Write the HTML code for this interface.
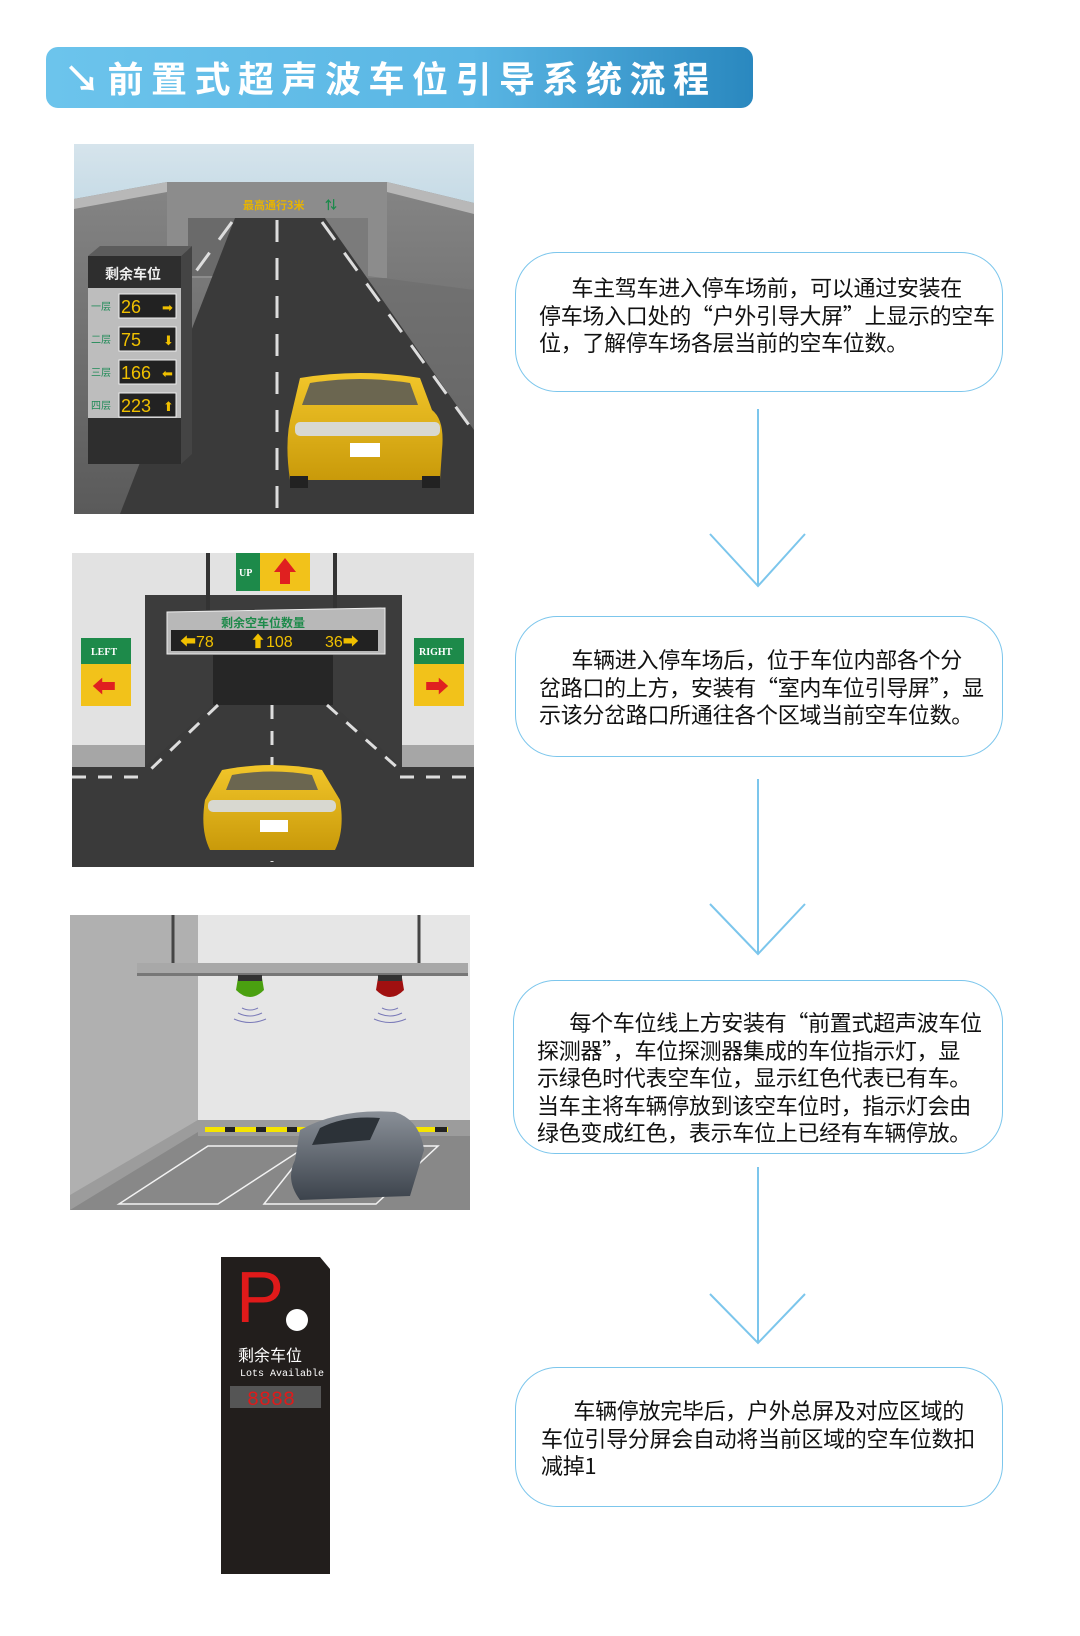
<!DOCTYPE html>
<html><head><meta charset="utf-8"><style>
html,body{margin:0;padding:0;background:#fff;}
body{width:1080px;height:1636px;position:relative;overflow:hidden;font-family:"Liberation Sans","Noto Sans CJK SC",sans-serif;}
.box{position:absolute;border:1.5px solid #7cc6ec;border-radius:42px;background:#fff;box-sizing:border-box;}
.txt{position:absolute;font-size:22px;line-height:27.5px;color:#111;white-space:nowrap;font-family:"Noto Sans CJK SC",sans-serif;letter-spacing:-0.3px;}
.title{position:absolute;left:46px;top:47px;width:707px;height:61px;border-radius:12px;background:linear-gradient(90deg,#6cc4ec 0%,#5ab6e4 60%,#2a88bf 100%);color:#fff;font-size:36px;line-height:61px;font-weight:bold;letter-spacing:7.5px;padding-left:18px;box-sizing:border-box;font-family:"Noto Sans CJK SC",sans-serif;white-space:nowrap;overflow:hidden;}
</style></head><body>
<div class="title">↘前置式超声波车位引导系统流程</div>

<svg width="1080" height="1636" style="position:absolute;left:0;top:0" xmlns="http://www.w3.org/2000/svg">
<defs>
<linearGradient id="sky" x1="0" y1="0" x2="0" y2="1"><stop offset="0" stop-color="#d6e4ec"/><stop offset="1" stop-color="#c6dbe6"/></linearGradient>
<linearGradient id="wall1" x1="0" y1="0" x2="0" y2="1"><stop offset="0" stop-color="#8a8a8a"/><stop offset="1" stop-color="#5a5a5a"/></linearGradient>
<linearGradient id="car" x1="0" y1="0" x2="0" y2="1"><stop offset="0" stop-color="#f2c62a"/><stop offset="1" stop-color="#c99a0a"/></linearGradient>
<linearGradient id="gcar" x1="0" y1="0" x2="0" y2="1"><stop offset="0" stop-color="#8a9098"/><stop offset="1" stop-color="#3c434c"/></linearGradient>
</defs>

<!-- IMAGE 1 -->
<g>
<rect x="74" y="144" width="400" height="370" fill="url(#wall1)"/>
<polygon points="74,144 474,144 474,203 387,182 167,182 74,199" fill="url(#sky)"/>
<polygon points="74,199 167,182 387,182 474,203 474,214 387,192 167,192 74,209" fill="#b8b8b8"/>
<rect x="167" y="182" width="220" height="96" fill="#8c8c8c"/>
<rect x="188" y="218" width="107" height="58" fill="#6a6a6a"/>
<polygon points="235,218 325,218 474,430 474,514 180,514 120,514" fill="#3a3a3a"/>
<polygon points="325,218 368,218 368,276 474,290 474,430" fill="#6a6a6a" opacity="0.5"/>
<g stroke="#ddd" stroke-width="3" stroke-dasharray="22,16">
<line x1="277" y1="220" x2="277" y2="512"/>
<line x1="232" y1="222" x2="175" y2="300"/>
<line x1="322" y1="222" x2="474" y2="432"/>
</g>
<text x="243" y="209" font-size="11" fill="#e8b400" font-weight="bold" font-family="Noto Sans CJK SC,sans-serif">最高通行3米</text>
<text x="325" y="209" font-size="12" fill="#1a8a4a" font-weight="bold">⇅</text>
<polygon points="88,256 100,246 192,246 181,256" fill="#5c5c5c"/>
<polygon points="181,256 192,246 192,454 181,464" fill="#444"/>
<rect x="88" y="256" width="93" height="208" fill="#2e2e2e"/>
<text x="105" y="279" font-size="14" fill="#eee" font-weight="bold" font-family="Noto Sans CJK SC,sans-serif">剩余车位</text>
<rect x="88" y="288" width="93" height="130" fill="#bdbdbd"/>
<g font-family="Liberation Sans,sans-serif">
<g fill="#1f8a57" font-size="10" font-family="Noto Sans CJK SC,sans-serif"><text x="91" y="310">一层</text><text x="91" y="343">二层</text><text x="91" y="376">三层</text><text x="91" y="409">四层</text></g>
<rect x="119" y="294" width="57" height="24" fill="#222" stroke="#eee"/>
<rect x="119" y="327" width="57" height="24" fill="#222" stroke="#eee"/>
<rect x="119" y="360" width="57" height="24" fill="#222" stroke="#eee"/>
<rect x="119" y="393" width="57" height="24" fill="#222" stroke="#eee"/>
<g fill="#f0c000" font-size="18"><text x="121" y="313">26</text><text x="121" y="346">75</text><text x="121" y="379">166</text><text x="121" y="412">223</text>
<text x="162" y="312" font-size="13">➡</text><text x="163" y="345" font-size="13">⬇</text><text x="162" y="378" font-size="13">⬅</text><text x="163" y="411" font-size="13">⬆</text></g>
</g>
<path d="M300 378 Q360 368 420 378 L432 410 Q445 420 442 450 L440 480 L290 480 Q284 440 292 412 Z" fill="url(#car)"/>
<path d="M310 383 Q360 375 410 383 L418 405 L302 405 Z" fill="#6b6650"/>
<rect x="295" y="422" width="145" height="14" rx="5" fill="#d8d8d0"/>
<rect x="350" y="443" width="30" height="14" fill="#fff"/>
<rect x="290" y="476" width="18" height="12" fill="#222"/><rect x="422" y="476" width="18" height="12" fill="#222"/>
</g>

<!-- IMAGE 2 -->
<g>
<rect x="72" y="553" width="402" height="314" fill="#e2e2e2"/>
<rect x="72" y="745" width="73" height="22" fill="#a6a6a6"/><rect x="402" y="745" width="72" height="22" fill="#a6a6a6"/>
<rect x="145" y="595" width="257" height="172" fill="#3c3c3c"/>
<rect x="213" y="655" width="120" height="100" fill="#262626"/>
<polygon points="72,767 145,767 213,705 333,705 402,767 474,767 474,867 72,867" fill="#3a3a3a"/>
<g stroke="#ddd" stroke-width="3" stroke-dasharray="14,12"><line x1="272" y1="705" x2="272" y2="862"/><line x1="218" y1="705" x2="150" y2="770"/><line x1="327" y1="705" x2="400" y2="770"/>
<line x1="72" y1="777" x2="150" y2="777"/><line x1="400" y1="777" x2="474" y2="777"/></g>
<line x1="208" y1="553" x2="208" y2="610" stroke="#333" stroke-width="4"/><line x1="335" y1="553" x2="335" y2="610" stroke="#333" stroke-width="4"/>
<rect x="236" y="553" width="24" height="38" fill="#1d8a4a"/><rect x="260" y="553" width="50" height="38" fill="#f2c21a"/>
<text x="239" y="576" font-size="10" fill="#fff" font-weight="bold" font-family="Liberation Serif,serif">UP</text>
<polygon points="285,558 296,572 290,572 290,584 280,584 280,572 274,572" fill="#e02020"/>
<polygon points="167,612 385,608 385,654 167,654" fill="#b8b8b8" stroke="#eee"/>
<text x="221" y="627" font-size="12" fill="#1d8a4a" font-weight="bold" font-family="Noto Sans CJK SC,sans-serif">剩余空车位数量</text>
<rect x="171" y="630" width="207" height="21" fill="#222"/>
<text x="180" y="647" font-size="16" fill="#f0c000">⬅78</text><text x="250" y="647" font-size="16" fill="#f0c000">⬆108</text><text x="325" y="647" font-size="16" fill="#f0c000">36➡</text>
<rect x="81" y="638" width="50" height="26" fill="#1d8a4a"/><rect x="81" y="664" width="50" height="42" fill="#f2c21a"/>
<text x="91" y="655" font-size="10" fill="#fff" font-weight="bold" font-family="Liberation Serif,serif">LEFT</text>
<text x="92" y="695" font-size="24" fill="#e02020">⬅</text>
<rect x="414" y="638" width="50" height="26" fill="#1d8a4a"/><rect x="414" y="664" width="50" height="42" fill="#f2c21a"/>
<text x="419" y="655" font-size="10" fill="#fff" font-weight="bold" font-family="Liberation Serif,serif">RIGHT</text>
<text x="425" y="695" font-size="24" fill="#e02020">➡</text>
<path d="M222 770 Q272 760 322 770 L340 800 Q345 830 335 850 L210 850 Q200 830 205 800 Z" fill="url(#car)"/>
<rect x="208" y="800" width="128" height="12" rx="5" fill="#d8d8d0"/>
<rect x="260" y="820" width="28" height="12" fill="#fff"/>
<path d="M232 775 Q272 768 312 775 L318 790 L226 790 Z" fill="#6b6650"/>
</g>

<!-- IMAGE 3 -->
<g>
<rect x="70" y="915" width="400" height="295" fill="#e6e6e6"/>
<rect x="70" y="915" width="128" height="295" fill="#b0b0b0"/>
<rect x="198" y="1120" width="272" height="16" fill="#9c9c9c"/>
<polygon points="198,1120 198,1136 470,1136 470,1210 70,1210 70,1200" fill="#888"/>
<polygon points="70,1195 198,1120 198,1132 70,1210" fill="#9c9c9c"/>
<line x1="173" y1="915" x2="173" y2="963" stroke="#444" stroke-width="3"/><line x1="419" y1="915" x2="419" y2="963" stroke="#444" stroke-width="3"/>
<rect x="137" y="963" width="331" height="13" fill="#a8a8a8"/><rect x="137" y="973" width="331" height="3" fill="#777"/>
<path d="M238 978 L262 978 L264 990 Q250 1004 236 990 Z" fill="#4aa010"/><rect x="238" y="975" width="24" height="6" fill="#333"/>
<path d="M378 978 L402 978 L404 990 Q390 1004 376 990 Z" fill="#a01010"/><rect x="378" y="975" width="24" height="6" fill="#333"/>
<g fill="none" stroke="#7a7ab8" stroke-width="1"><path d="M242 1008 Q250 1012 258 1008"/><path d="M238 1013 Q250 1019 262 1013"/><path d="M234 1019 Q250 1026 266 1019"/>
<path d="M382 1008 Q390 1012 398 1008"/><path d="M378 1013 Q390 1019 402 1013"/><path d="M374 1019 Q390 1026 406 1019"/></g>
<rect x="205" y="1127" width="108" height="5" fill="#f5e400"/><rect x="328" y="1127" width="120" height="5" fill="#f5e400"/>
<g fill="#222"><rect x="225" y="1127" width="10" height="5"/><rect x="256" y="1127" width="10" height="5"/><rect x="287" y="1127" width="10" height="5"/><rect x="435" y="1127" width="12" height="5"/></g>
<g fill="none" stroke="#f2f2f2" stroke-width="1.5"><polygon points="208,1146 307,1146 218,1204 119,1204"/><polygon points="310,1146 438,1146 376,1204 264,1204"/></g>
<path d="M300 1130 Q340 1108 395 1112 Q420 1120 424 1150 L410 1196 L300 1200 Q285 1180 295 1160 Z" fill="url(#gcar)"/>
<path d="M320 1128 Q345 1115 380 1118 L370 1140 L312 1145 Z" fill="#2c3238"/>
</g>

<!-- SIGN -->
<g transform="translate(0,-14)">
<polygon points="221,1271 320,1271 330,1283 330,1588 221,1588" fill="#221e1c"/>
<text x="236" y="1336" font-size="72" fill="#e01a1a" font-family="Liberation Sans,sans-serif">P</text>
<circle cx="297" cy="1334" r="11" fill="#fff"/>
<text x="238" y="1375" font-size="16" fill="#fff" font-family="Noto Sans CJK SC,sans-serif">剩余车位</text>
<text x="240" y="1390" font-size="10" fill="#fff" font-family="Liberation Mono,monospace">Lots Available</text>
<rect x="230" y="1400" width="91" height="22" fill="#555"/>
<text x="247" y="1419" font-size="20" fill="#e01a1a" font-family="Liberation Mono,monospace">8888</text>
</g>

<!-- ARROWS -->
<g stroke="#7cc6ec" stroke-width="2" fill="none">
<line x1="758" y1="409" x2="758" y2="586"/><polyline points="710,534 758,586 805,534"/>
<line x1="758" y1="779" x2="758" y2="954"/><polyline points="710,904 758,954 805,904"/>
<line x1="758" y1="1167" x2="758" y2="1343"/><polyline points="710,1294 758,1343 805,1294"/>
</g>
</svg>

<div class="box" style="left:515px;top:252px;width:488px;height:140px"></div>
<div class="txt" style="left:539px;top:274px;">&emsp;&ensp;车主驾车进入停车场前，可以通过安装在<br>停车场入口处的“户外引导大屏”上显示的空车<br>位，了解停车场各层当前的空车位数。</div>
<div class="box" style="left:515px;top:616px;width:488px;height:141px"></div>
<div class="txt" style="left:539px;top:646px;">&emsp;&ensp;车辆进入停车场后，位于车位内部各个分<br>岔路口的上方，安装有“室内车位引导屏”，显<br>示该分岔路口所通往各个区域当前空车位数。</div>
<div class="box" style="left:513px;top:980px;width:490px;height:174px"></div>
<div class="txt" style="left:537px;top:1009px;">&emsp;&ensp;每个车位线上方安装有“前置式超声波车位<br>探测器”，车位探测器集成的车位指示灯，显<br>示绿色时代表空车位，显示红色代表已有车。<br>当车主将车辆停放到该空车位时，指示灯会由<br>绿色变成红色，表示车位上已经有车辆停放。</div>
<div class="box" style="left:515px;top:1367px;width:488px;height:140px"></div>
<div class="txt" style="left:541px;top:1397px;">&emsp;&ensp;车辆停放完毕后，户外总屏及对应区域的<br>车位引导分屏会自动将当前区域的空车位数扣<br>减掉1</div>
</body></html>
